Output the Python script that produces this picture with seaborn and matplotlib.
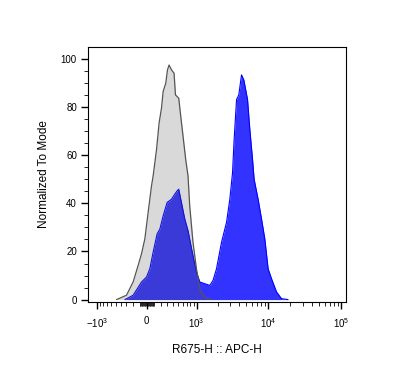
import matplotlib
matplotlib.use("Agg")
import matplotlib.pyplot as plt
import numpy as np
import seaborn as sns

# control histogram (gray), APC-H intensity vs % of mode
gray_x = [-480, -297, -193, -120, -73, -27, 18, 64, 87, 135, 172, 208, 233, 275, 303, 330,
          372, 420, 447, 514, 558, 611, 676, 736, 782, 879, 991, 1139, 1316, 1637]
gray_y = [0, 1.8, 7.3, 14.2, 19.0, 25.2, 36.2, 47.2, 51.4, 62.4, 73.4, 79.6, 86.5, 90.0,
          95.5, 97.5, 95.5, 94.1, 85.1, 83.7, 76.1, 67.8, 58.1, 51.4, 39.0, 23.8, 12.8, 3.2, 1.1, 0]

# stained sample (blue)
blue_x = [-325, -193, -73, -4, 41, 87, 143, 183, 233, 297, 372, 433, 480, 514, 558, 652,
          736, 857, 991, 1113, 1316, 1550, 1723, 1927, 2264, 2660, 2954, 3218, 3387, 3658,
          3932, 4283, 4611, 5187, 5574, 6070, 6387, 7245, 8070, 8955, 9937, 11063, 12946,
          15155, 18662]
blue_y = [0, 1.8, 7.3, 9.4, 12.8, 19.7, 27.3, 29.3, 34.8, 40.4, 41.7, 43.8, 45.2, 45.9,
          41.7, 33.5, 28.6, 19.7, 11.4, 7.3, 6.6, 5.9, 8.0, 12.8, 23.8, 32.1, 41.7, 52.6,
          66.4, 83.1, 85.1, 93.4, 91.3, 83.1, 70.7, 58.3, 50.0, 41.7, 33.5, 25.2, 12.8,
          8.7, 3.2, 0.4, 0]

x_major = [-1000, 0, 1000, 10000, 100000]
x_labels = [r"$\mathregular{-10^3}$", "0", r"$\mathregular{10^3}$",
            r"$\mathregular{10^4}$", r"$\mathregular{10^5}$"]

C = 433.0


def fwd(v):
    return np.arcsinh(np.asarray(v, dtype=float) / C)


def inv(v):
    return C * np.sinh(np.asarray(v, dtype=float))


sns.set_style("ticks")
plt.rcParams["font.family"] = ["Liberation Sans", "DejaVu Sans"]
plt.rcParams["mathtext.fontset"] = "custom"
plt.rcParams["mathtext.rm"] = "Liberation Sans"
plt.rcParams["text.color"] = "black"
plt.rcParams["axes.labelcolor"] = "black"

fig = plt.figure(figsize=(4.06, 3.87), dpi=100)
ax = fig.add_axes([88 / 406, 1 - 302 / 387, 258 / 406, 255 / 387])
ax.set_xscale("function", functions=(fwd, inv))

ax.fill_between(blue_x, blue_y, 0, color="#3333ff", lw=0, zorder=2)
sns.lineplot(x=blue_x, y=blue_y, color="#0000ff", lw=0.8, ax=ax, zorder=3,
             sort=False, estimator=None)
ax.fill_between(gray_x, gray_y, 0, color="#535353", alpha=0.22, lw=0, zorder=4)
sns.lineplot(x=gray_x, y=gray_y, color="#555555", lw=0.9, ax=ax, zorder=5,
             sort=False, estimator=None)

ax.set_xlim(-1350, 116000)
ax.set_ylim(-1, 105)

ax.set_xticks(x_major)
ax.set_xticklabels(x_labels)
minor = []
for d in [10, 100]:
    for k in range(1, 10):
        minor += [k * d, -k * d]
for d in [1000, 10000]:
    for k in range(2, 10):
        minor.append(k * d)
ax.set_xticks(minor, minor=True)

ax.set_yticks(np.arange(0, 101, 20))
ax.set_yticks(np.arange(0, 101, 5), minor=True)

for s in ax.spines.values():
    s.set_linewidth(0.8)
    s.set_color("black")
ax.tick_params(which="major", length=5, width=1.0, labelsize=7, colors="black", pad=3)
ax.tick_params(which="minor", length=3, width=0.7)
ax.tick_params(axis="x", which="major", pad=5)

ax.set_xlabel("R675-H :: APC-H", fontsize=8.5, labelpad=10)
ax.set_ylabel("Normalized To Mode", fontsize=8.5, labelpad=8)

fig.savefig("out.png", dpi=100)
